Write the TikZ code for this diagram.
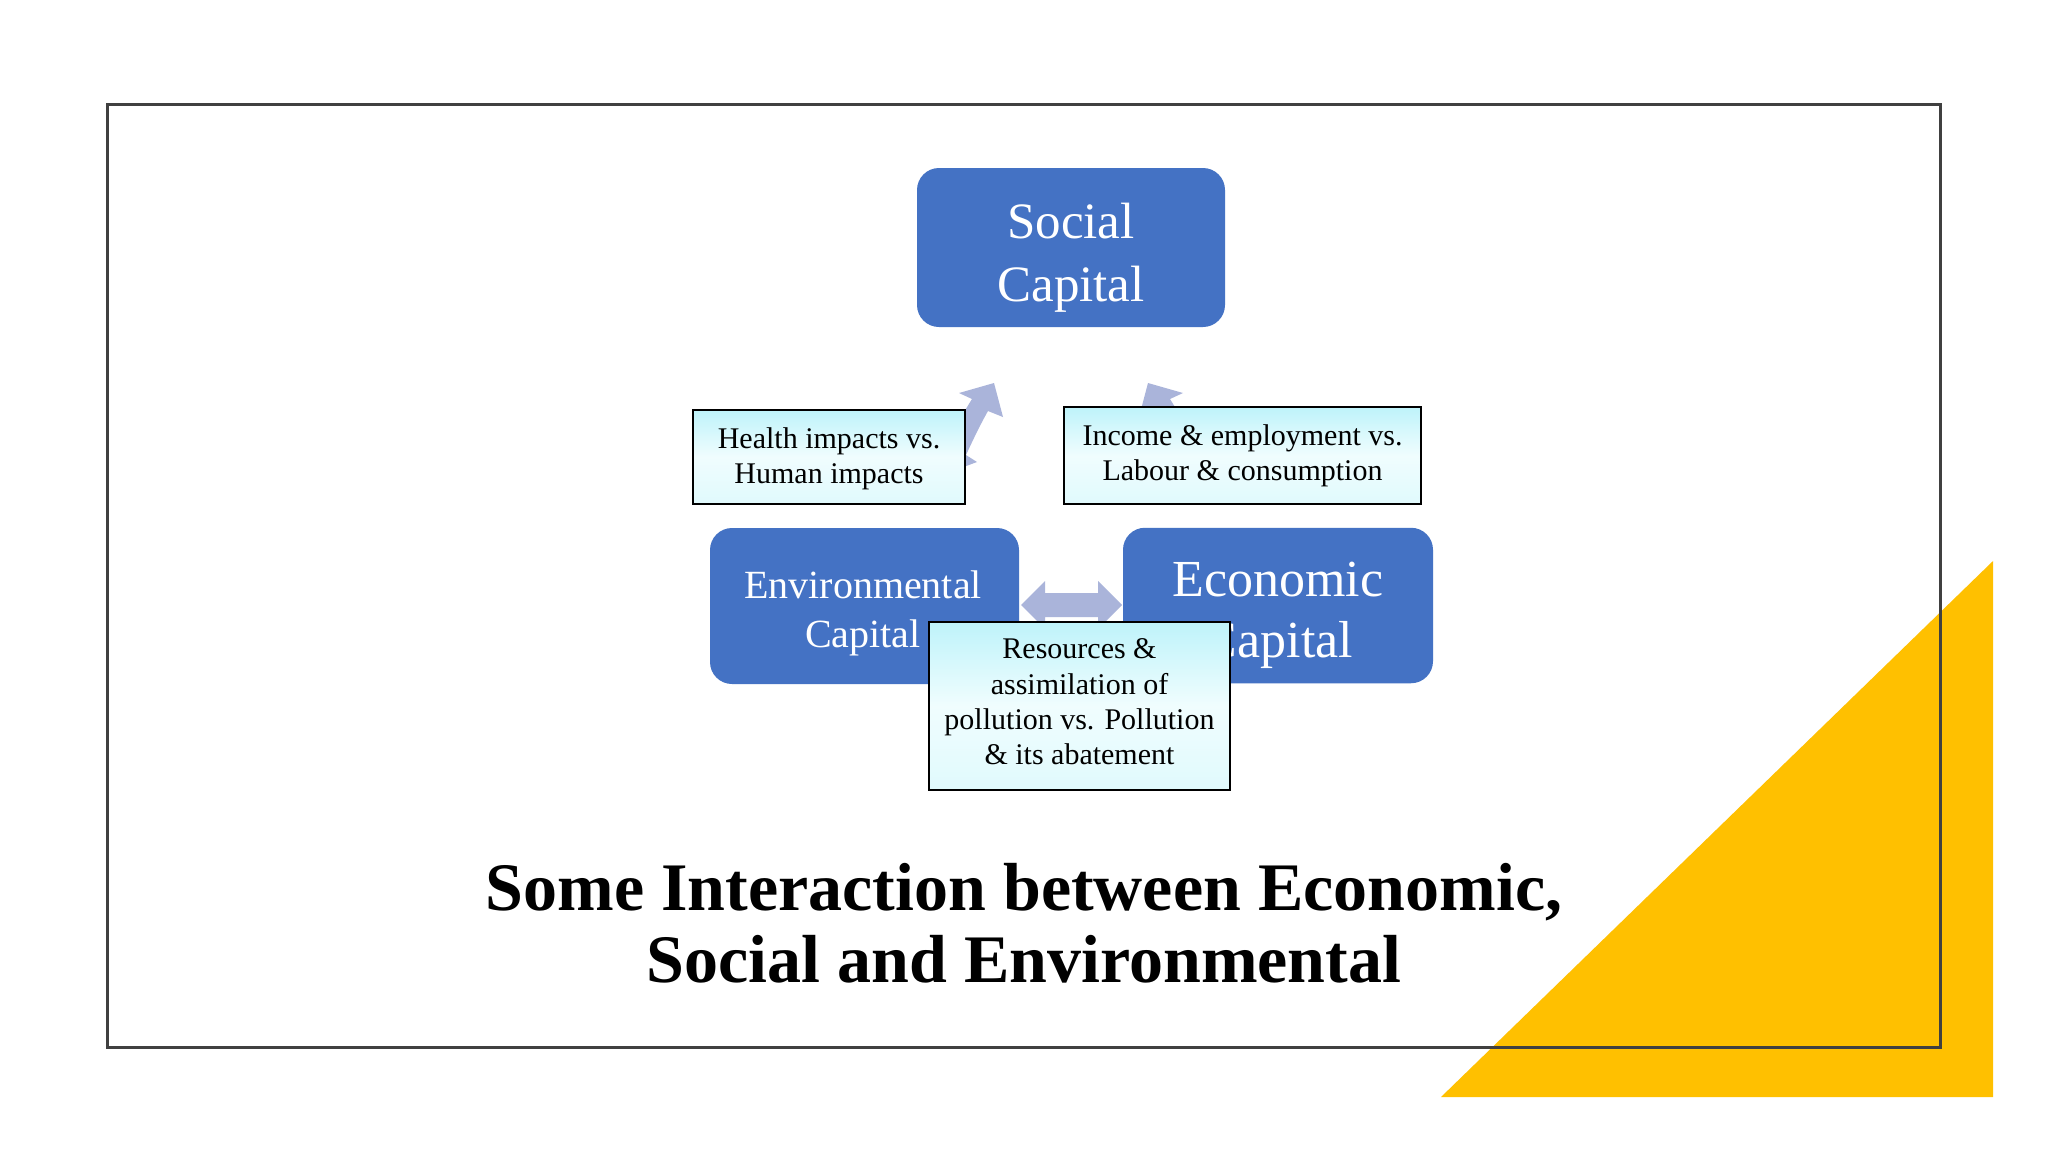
\documentclass[tikz,border=0pt]{standalone}
\usepackage{fontspec}
\setmainfont{Liberation Serif}
\definecolor{boxblue}{HTML}{4472C4}
\definecolor{arrowc}{RGB}{170,180,218}
\definecolor{gold}{HTML}{FFC000}
\definecolor{framec}{HTML}{404040}
\definecolor{cyantop}{RGB}{190,243,250}
\definecolor{cyanmid}{RGB}{240,253,254}
\definecolor{cyanbot}{RGB}{224,250,253}
\begin{document}
\begin{tikzpicture}[x=1pt,y=-1pt,
 capbox/.style={fill=boxblue, rounded corners=22pt, draw=none, inner sep=0pt},
 infobox/.style={draw=black, line width=1.4pt, top color=cyantop, bottom color=cyanbot, middle color=cyanmid, inner sep=0pt},
 captext/.style={text=white, align=center, inner sep=0pt},
 infotext/.style={text=black, align=center, inner sep=0pt, font=\fontsize{30}{35.3}\selectfont},
 flow/.style={fill=arrowc, draw=none}]
\fill[white] (0,0) rectangle (2048,1152);
\useasboundingbox (0,0) rectangle (2048,1152);
% decoration
\fill[gold] (1993,561) -- (1993,1097) -- (1441,1097) -- cycle;
\draw[framec, line width=3pt] (107,104.5) rectangle (1940,1047);
% arrows
\fill[flow] (994,383) -- (1003,417) -- (988,411) .. controls (980,425) and (972,442) .. (966,455) -- (977,462) -- (950,472) -- (946,445) .. controls (954,428) and (964,412) .. (972,399) -- (959,393) -- cycle;
\fill[flow] (1148,383) -- (1139,417) -- (1154,411) .. controls (1162,425) and (1170,442) .. (1176,455) -- (1165,462) -- (1192,472) -- (1196,445) .. controls (1188,428) and (1178,412) .. (1170,399) -- (1183,393) -- cycle;
\fill[flow] (1021,605) -- (1045,581) -- (1045,593) -- (1098,593) -- (1098,581) -- (1122,605) -- (1098,629) -- (1098,617) -- (1045,617) -- (1045,629) -- cycle;
% capital boxes
\node[capbox, minimum width=308pt, minimum height=159pt] (social) at (1071,247.5) {};
\node[capbox, minimum width=309pt, minimum height=156pt] (env) at (864.5,606) {};
\node[capbox, minimum width=310pt, minimum height=155.5pt] (econ) at (1278,605.5) {};
\node[captext, font=\fontsize{51}{63}\selectfont] (socialtxt) at (1071,257.5) {Social\\Capital};
\node[captext, font=\fontsize{40}{49}\selectfont] (envtxt) at (863,613) {Environmental\\Capital};
\node[captext, font=\fontsize{52}{61}\selectfont] (econtxt) at (1278,615.4) {Economic\\Capital};
% info boxes
\node[infobox, minimum width=272pt, minimum height=94pt] (health) at (829,457) {};
\node[infotext] (healthtxt) at (829,458.5) {Health impacts vs.\\Human impacts};
\node[infobox, minimum width=357pt, minimum height=97pt] (income) at (1242.5,455.5) {};
\node[infotext] (incometxt) at (1242.5,455.5) {Income \& employment vs.\\Labour \& consumption};
\node[infobox, minimum width=301pt, minimum height=168pt] (res) at (1079.5,706) {};
\node[infotext] (restxt) at (1079.5,702) {Resources \&\\assimilation of\\pollution vs. Pollution\\\& its abatement};
% title
\node[font=\fontsize{68}{72}\selectfont\bfseries, align=center, inner sep=0pt] (title) at (1024,923) {Some Interaction between Economic,\\Social and Environmental};
\end{tikzpicture}
\end{document}
